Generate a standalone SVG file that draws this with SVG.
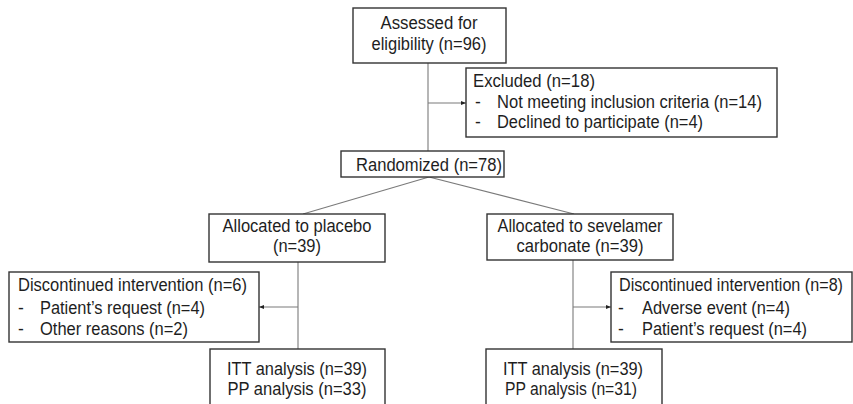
<svg xmlns="http://www.w3.org/2000/svg" width="853" height="404" viewBox="0 0 853 404">
<style>
.box{fill:#fff;stroke:#333;stroke-width:1.4}
.t{font-family:"Liberation Sans",Arial,sans-serif;font-size:17.5px;fill:#1e1e1e}
.c{text-anchor:middle}
.ln{fill:none;stroke:#7a7a7a;stroke-width:1.1}
</style>
<defs>
<marker id="ah" viewBox="0 0 10 10" refX="10" refY="5" markerWidth="5" markerHeight="5" orient="auto" markerUnits="userSpaceOnUse">
<path d="M0,1 L10,5 L0,9 z" fill="#222"/>
</marker>
</defs>
<rect width="853" height="404" fill="#fff"/>
<g id="connectors">
<line class="ln" x1="428" y1="63" x2="428" y2="151"/>
<line class="ln" x1="428" y1="103" x2="466" y2="103" marker-end="url(#ah)"/>
<line class="ln" x1="429" y1="177" x2="303" y2="214"/>
<line class="ln" x1="429" y1="177" x2="574" y2="214"/>
<line class="ln" x1="298" y1="262" x2="298" y2="349"/>
<line class="ln" x1="298" y1="307" x2="259" y2="307" marker-end="url(#ah)"/>
<line class="ln" x1="573" y1="260" x2="573" y2="349"/>
<line class="ln" x1="573" y1="307" x2="611" y2="307" marker-end="url(#ah)"/>
</g>
<g id="assessed">
<rect class="box" x="353" y="8" width="153" height="55"/>
<text class="t c" x="429" y="29" textLength="97" lengthAdjust="spacingAndGlyphs">Assessed for</text>
<text class="t c" x="429" y="50" textLength="115" lengthAdjust="spacingAndGlyphs">eligibility (n=96)</text>
</g>
<g id="excluded">
<rect class="box" x="466" y="68" width="311" height="69"/>
<text class="t" x="473" y="87" textLength="122" lengthAdjust="spacingAndGlyphs">Excluded (n=18)</text>
<text class="t" x="475" y="108">-</text>
<text class="t" x="497" y="108" textLength="265" lengthAdjust="spacingAndGlyphs">Not meeting inclusion criteria (n=14)</text>
<text class="t" x="475" y="128">-</text>
<text class="t" x="497" y="128" textLength="206" lengthAdjust="spacingAndGlyphs">Declined to participate (n=4)</text>
</g>
<g id="randomized">
<rect class="box" x="341" y="151" width="163" height="26"/>
<text class="t" x="356" y="171" textLength="146" lengthAdjust="spacingAndGlyphs">Randomized (n=78)</text>
</g>
<g id="placebo">
<rect class="box" x="209" y="214" width="176" height="48"/>
<text class="t c" x="297" y="232" textLength="149" lengthAdjust="spacingAndGlyphs">Allocated to placebo</text>
<text class="t c" x="297" y="252" textLength="48" lengthAdjust="spacingAndGlyphs">(n=39)</text>
</g>
<g id="sevelamer">
<rect class="box" x="487" y="214" width="186" height="46"/>
<text class="t c" x="580" y="232" textLength="165" lengthAdjust="spacingAndGlyphs">Allocated to sevelamer</text>
<text class="t c" x="580" y="252" textLength="127" lengthAdjust="spacingAndGlyphs">carbonate (n=39)</text>
</g>
<g id="disc-left">
<rect class="box" x="9" y="272" width="250" height="70"/>
<text class="t" x="18" y="291" textLength="229" lengthAdjust="spacingAndGlyphs">Discontinued intervention (n=6)</text>
<text class="t" x="18" y="314">-</text>
<text class="t" x="40" y="314" textLength="165" lengthAdjust="spacingAndGlyphs">Patient’s request (n=4)</text>
<text class="t" x="18" y="335">-</text>
<text class="t" x="40" y="335" textLength="148" lengthAdjust="spacingAndGlyphs">Other reasons (n=2)</text>
</g>
<g id="disc-right">
<rect class="box" x="611" y="272" width="241" height="70"/>
<text class="t" x="619" y="291" textLength="224" lengthAdjust="spacingAndGlyphs">Discontinued intervention (n=8)</text>
<text class="t" x="618" y="314">-</text>
<text class="t" x="642" y="314" textLength="148" lengthAdjust="spacingAndGlyphs">Adverse event (n=4)</text>
<text class="t" x="618" y="335">-</text>
<text class="t" x="642" y="335" textLength="165" lengthAdjust="spacingAndGlyphs">Patient’s request (n=4)</text>
</g>
<g id="analysis-left">
<rect class="box" x="210" y="349" width="175" height="70"/>
<text class="t c" x="297" y="375" textLength="140" lengthAdjust="spacingAndGlyphs">ITT analysis (n=39)</text>
<text class="t c" x="297" y="395" textLength="139" lengthAdjust="spacingAndGlyphs">PP analysis (n=33)</text>
</g>
<g id="analysis-right">
<rect class="box" x="486" y="349" width="176" height="70"/>
<text class="t c" x="573" y="375" textLength="140" lengthAdjust="spacingAndGlyphs">ITT analysis (n=39)</text>
<text class="t c" x="571" y="395" textLength="132" lengthAdjust="spacingAndGlyphs">PP analysis (n=31)</text>
</g>
</svg>
